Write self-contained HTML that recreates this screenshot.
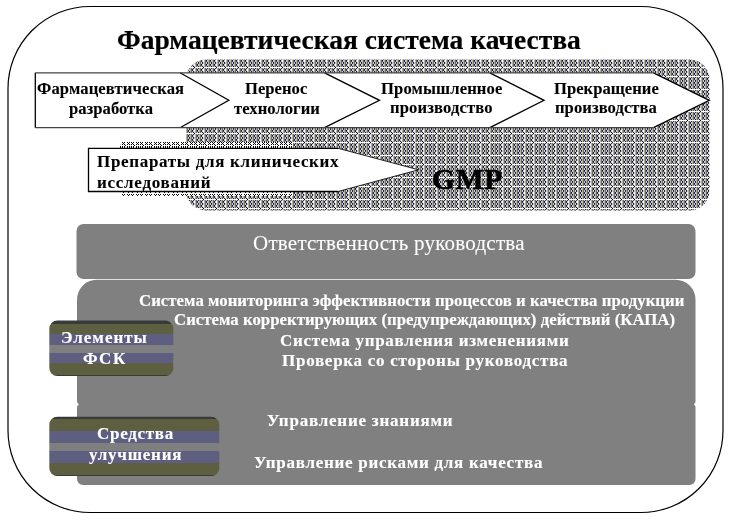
<!DOCTYPE html>
<html><head><meta charset="utf-8">
<style>
html,body{margin:0;padding:0;background:#fff;}
body{width:730px;height:523px;overflow:hidden;position:relative;}
svg{position:absolute;left:0;top:0;will-change:transform;}
text{font-family:"Liberation Serif",serif;}
</style></head>
<body>
<svg width="730" height="523" viewBox="0 0 730 523">
<defs>
<pattern id="pt" patternUnits="userSpaceOnUse" width="22" height="22" x="194" y="45"><rect x="0" y="0" width="1" height="1" fill="#000000"/><rect x="1" y="0" width="8" height="1" fill="#ffffff"/><rect x="9" y="0" width="1" height="1" fill="#000000"/><rect x="10" y="0" width="12" height="1" fill="#ffffff"/><rect x="0" y="1" width="1" height="1" fill="#c8c8c8"/><rect x="1" y="1" width="1" height="1" fill="#b0b0b0"/><rect x="2" y="1" width="1" height="1" fill="#707050"/><rect x="3" y="1" width="1" height="1" fill="#d0d0d0"/><rect x="4" y="1" width="1" height="1" fill="#303058"/><rect x="5" y="1" width="1" height="1" fill="#b0b0b0"/><rect x="6" y="1" width="1" height="1" fill="#707050"/><rect x="7" y="1" width="1" height="1" fill="#d0d0d0"/><rect x="8" y="1" width="1" height="1" fill="#303058"/><rect x="9" y="1" width="1" height="1" fill="#c8c8c8"/><rect x="10" y="1" width="1" height="1" fill="#b0b0b0"/><rect x="11" y="1" width="1" height="1" fill="#707050"/><rect x="12" y="1" width="1" height="1" fill="#d0d0d0"/><rect x="13" y="1" width="1" height="1" fill="#303058"/><rect x="14" y="1" width="1" height="1" fill="#b0b0b0"/><rect x="15" y="1" width="1" height="1" fill="#707050"/><rect x="16" y="1" width="1" height="1" fill="#d0d0d0"/><rect x="17" y="1" width="1" height="1" fill="#303058"/><rect x="18" y="1" width="1" height="1" fill="#b0b0b0"/><rect x="19" y="1" width="1" height="1" fill="#707050"/><rect x="20" y="1" width="1" height="1" fill="#d0d0d0"/><rect x="21" y="1" width="1" height="1" fill="#303058"/><rect x="0" y="2" width="1" height="1" fill="#ffffff"/><rect x="1" y="2" width="1" height="1" fill="#b0b0b0"/><rect x="2" y="2" width="1" height="1" fill="#707050"/><rect x="3" y="2" width="1" height="1" fill="#141440"/><rect x="4" y="2" width="1" height="1" fill="#d0d0d0"/><rect x="5" y="2" width="1" height="1" fill="#b0b0b0"/><rect x="6" y="2" width="1" height="1" fill="#707050"/><rect x="7" y="2" width="1" height="1" fill="#141440"/><rect x="8" y="2" width="1" height="1" fill="#d0d0d0"/><rect x="9" y="2" width="1" height="1" fill="#ffffff"/><rect x="10" y="2" width="1" height="1" fill="#b0b0b0"/><rect x="11" y="2" width="1" height="1" fill="#707050"/><rect x="12" y="2" width="1" height="1" fill="#141440"/><rect x="13" y="2" width="1" height="1" fill="#d0d0d0"/><rect x="14" y="2" width="1" height="1" fill="#b0b0b0"/><rect x="15" y="2" width="1" height="1" fill="#707050"/><rect x="16" y="2" width="1" height="1" fill="#141440"/><rect x="17" y="2" width="1" height="1" fill="#d0d0d0"/><rect x="18" y="2" width="1" height="1" fill="#b0b0b0"/><rect x="19" y="2" width="1" height="1" fill="#707050"/><rect x="20" y="2" width="1" height="1" fill="#141440"/><rect x="21" y="2" width="1" height="1" fill="#d0d0d0"/><rect x="0" y="3" width="1" height="1" fill="#ffffff"/><rect x="1" y="3" width="1" height="1" fill="#b0b0b0"/><rect x="2" y="3" width="1" height="1" fill="#707050"/><rect x="3" y="3" width="1" height="1" fill="#303058"/><rect x="4" y="3" width="1" height="1" fill="#d0d0d0"/><rect x="5" y="3" width="1" height="1" fill="#b0b0b0"/><rect x="6" y="3" width="1" height="1" fill="#707050"/><rect x="7" y="3" width="1" height="1" fill="#303058"/><rect x="8" y="3" width="1" height="1" fill="#d0d0d0"/><rect x="9" y="3" width="1" height="1" fill="#ffffff"/><rect x="10" y="3" width="1" height="1" fill="#b0b0b0"/><rect x="11" y="3" width="1" height="1" fill="#707050"/><rect x="12" y="3" width="1" height="1" fill="#303058"/><rect x="13" y="3" width="1" height="1" fill="#d0d0d0"/><rect x="14" y="3" width="1" height="1" fill="#b0b0b0"/><rect x="15" y="3" width="1" height="1" fill="#707050"/><rect x="16" y="3" width="1" height="1" fill="#303058"/><rect x="17" y="3" width="1" height="1" fill="#d0d0d0"/><rect x="18" y="3" width="1" height="1" fill="#b0b0b0"/><rect x="19" y="3" width="1" height="1" fill="#707050"/><rect x="20" y="3" width="1" height="1" fill="#303058"/><rect x="21" y="3" width="1" height="1" fill="#d0d0d0"/><rect x="0" y="4" width="1" height="1" fill="#c8c8c8"/><rect x="1" y="4" width="1" height="1" fill="#b0b0b0"/><rect x="2" y="4" width="1" height="1" fill="#707050"/><rect x="3" y="4" width="1" height="1" fill="#d0d0d0"/><rect x="4" y="4" width="1" height="1" fill="#141440"/><rect x="5" y="4" width="1" height="1" fill="#b0b0b0"/><rect x="6" y="4" width="1" height="1" fill="#707050"/><rect x="7" y="4" width="1" height="1" fill="#d0d0d0"/><rect x="8" y="4" width="1" height="1" fill="#141440"/><rect x="9" y="4" width="1" height="1" fill="#c8c8c8"/><rect x="10" y="4" width="1" height="1" fill="#b0b0b0"/><rect x="11" y="4" width="1" height="1" fill="#707050"/><rect x="12" y="4" width="1" height="1" fill="#d0d0d0"/><rect x="13" y="4" width="1" height="1" fill="#141440"/><rect x="14" y="4" width="1" height="1" fill="#b0b0b0"/><rect x="15" y="4" width="1" height="1" fill="#707050"/><rect x="16" y="4" width="1" height="1" fill="#d0d0d0"/><rect x="17" y="4" width="1" height="1" fill="#141440"/><rect x="18" y="4" width="1" height="1" fill="#b0b0b0"/><rect x="19" y="4" width="1" height="1" fill="#707050"/><rect x="20" y="4" width="1" height="1" fill="#d0d0d0"/><rect x="21" y="4" width="1" height="1" fill="#141440"/><rect x="0" y="5" width="1" height="1" fill="#c8c8c8"/><rect x="1" y="5" width="1" height="1" fill="#b0b0b0"/><rect x="2" y="5" width="1" height="1" fill="#707050"/><rect x="3" y="5" width="1" height="1" fill="#d0d0d0"/><rect x="4" y="5" width="1" height="1" fill="#303058"/><rect x="5" y="5" width="1" height="1" fill="#b0b0b0"/><rect x="6" y="5" width="1" height="1" fill="#707050"/><rect x="7" y="5" width="1" height="1" fill="#d0d0d0"/><rect x="8" y="5" width="1" height="1" fill="#303058"/><rect x="9" y="5" width="1" height="1" fill="#c8c8c8"/><rect x="10" y="5" width="1" height="1" fill="#b0b0b0"/><rect x="11" y="5" width="1" height="1" fill="#707050"/><rect x="12" y="5" width="1" height="1" fill="#d0d0d0"/><rect x="13" y="5" width="1" height="1" fill="#303058"/><rect x="14" y="5" width="1" height="1" fill="#b0b0b0"/><rect x="15" y="5" width="1" height="1" fill="#707050"/><rect x="16" y="5" width="1" height="1" fill="#d0d0d0"/><rect x="17" y="5" width="1" height="1" fill="#303058"/><rect x="18" y="5" width="1" height="1" fill="#b0b0b0"/><rect x="19" y="5" width="1" height="1" fill="#707050"/><rect x="20" y="5" width="1" height="1" fill="#d0d0d0"/><rect x="21" y="5" width="1" height="1" fill="#303058"/><rect x="0" y="6" width="1" height="1" fill="#ffffff"/><rect x="1" y="6" width="1" height="1" fill="#b0b0b0"/><rect x="2" y="6" width="1" height="1" fill="#707050"/><rect x="3" y="6" width="1" height="1" fill="#141440"/><rect x="4" y="6" width="1" height="1" fill="#d0d0d0"/><rect x="5" y="6" width="1" height="1" fill="#b0b0b0"/><rect x="6" y="6" width="1" height="1" fill="#707050"/><rect x="7" y="6" width="1" height="1" fill="#141440"/><rect x="8" y="6" width="1" height="1" fill="#d0d0d0"/><rect x="9" y="6" width="1" height="1" fill="#ffffff"/><rect x="10" y="6" width="1" height="1" fill="#b0b0b0"/><rect x="11" y="6" width="1" height="1" fill="#707050"/><rect x="12" y="6" width="1" height="1" fill="#141440"/><rect x="13" y="6" width="1" height="1" fill="#d0d0d0"/><rect x="14" y="6" width="1" height="1" fill="#b0b0b0"/><rect x="15" y="6" width="1" height="1" fill="#707050"/><rect x="16" y="6" width="1" height="1" fill="#141440"/><rect x="17" y="6" width="1" height="1" fill="#d0d0d0"/><rect x="18" y="6" width="1" height="1" fill="#b0b0b0"/><rect x="19" y="6" width="1" height="1" fill="#707050"/><rect x="20" y="6" width="1" height="1" fill="#141440"/><rect x="21" y="6" width="1" height="1" fill="#d0d0d0"/><rect x="0" y="7" width="1" height="1" fill="#ffffff"/><rect x="1" y="7" width="1" height="1" fill="#b0b0b0"/><rect x="2" y="7" width="1" height="1" fill="#707050"/><rect x="3" y="7" width="1" height="1" fill="#303058"/><rect x="4" y="7" width="1" height="1" fill="#d0d0d0"/><rect x="5" y="7" width="1" height="1" fill="#b0b0b0"/><rect x="6" y="7" width="1" height="1" fill="#707050"/><rect x="7" y="7" width="1" height="1" fill="#303058"/><rect x="8" y="7" width="1" height="1" fill="#d0d0d0"/><rect x="9" y="7" width="1" height="1" fill="#ffffff"/><rect x="10" y="7" width="1" height="1" fill="#b0b0b0"/><rect x="11" y="7" width="1" height="1" fill="#707050"/><rect x="12" y="7" width="1" height="1" fill="#303058"/><rect x="13" y="7" width="1" height="1" fill="#d0d0d0"/><rect x="14" y="7" width="1" height="1" fill="#b0b0b0"/><rect x="15" y="7" width="1" height="1" fill="#707050"/><rect x="16" y="7" width="1" height="1" fill="#303058"/><rect x="17" y="7" width="1" height="1" fill="#d0d0d0"/><rect x="18" y="7" width="1" height="1" fill="#b0b0b0"/><rect x="19" y="7" width="1" height="1" fill="#707050"/><rect x="20" y="7" width="1" height="1" fill="#303058"/><rect x="21" y="7" width="1" height="1" fill="#d0d0d0"/><rect x="0" y="8" width="1" height="1" fill="#c8c8c8"/><rect x="1" y="8" width="1" height="1" fill="#b0b0b0"/><rect x="2" y="8" width="1" height="1" fill="#707050"/><rect x="3" y="8" width="1" height="1" fill="#d0d0d0"/><rect x="4" y="8" width="1" height="1" fill="#141440"/><rect x="5" y="8" width="1" height="1" fill="#b0b0b0"/><rect x="6" y="8" width="1" height="1" fill="#707050"/><rect x="7" y="8" width="1" height="1" fill="#d0d0d0"/><rect x="8" y="8" width="1" height="1" fill="#141440"/><rect x="9" y="8" width="1" height="1" fill="#c8c8c8"/><rect x="10" y="8" width="1" height="1" fill="#b0b0b0"/><rect x="11" y="8" width="1" height="1" fill="#707050"/><rect x="12" y="8" width="1" height="1" fill="#d0d0d0"/><rect x="13" y="8" width="1" height="1" fill="#141440"/><rect x="14" y="8" width="1" height="1" fill="#b0b0b0"/><rect x="15" y="8" width="1" height="1" fill="#707050"/><rect x="16" y="8" width="1" height="1" fill="#d0d0d0"/><rect x="17" y="8" width="1" height="1" fill="#141440"/><rect x="18" y="8" width="1" height="1" fill="#b0b0b0"/><rect x="19" y="8" width="1" height="1" fill="#707050"/><rect x="20" y="8" width="1" height="1" fill="#d0d0d0"/><rect x="21" y="8" width="1" height="1" fill="#141440"/><rect x="0" y="9" width="1" height="1" fill="#000000"/><rect x="1" y="9" width="8" height="1" fill="#ffffff"/><rect x="9" y="9" width="1" height="1" fill="#000000"/><rect x="10" y="9" width="12" height="1" fill="#ffffff"/><rect x="0" y="10" width="1" height="1" fill="#c8c8c8"/><rect x="1" y="10" width="1" height="1" fill="#b0b0b0"/><rect x="2" y="10" width="1" height="1" fill="#707050"/><rect x="3" y="10" width="1" height="1" fill="#d0d0d0"/><rect x="4" y="10" width="1" height="1" fill="#303058"/><rect x="5" y="10" width="1" height="1" fill="#b0b0b0"/><rect x="6" y="10" width="1" height="1" fill="#707050"/><rect x="7" y="10" width="1" height="1" fill="#d0d0d0"/><rect x="8" y="10" width="1" height="1" fill="#303058"/><rect x="9" y="10" width="1" height="1" fill="#c8c8c8"/><rect x="10" y="10" width="1" height="1" fill="#b0b0b0"/><rect x="11" y="10" width="1" height="1" fill="#707050"/><rect x="12" y="10" width="1" height="1" fill="#d0d0d0"/><rect x="13" y="10" width="1" height="1" fill="#303058"/><rect x="14" y="10" width="1" height="1" fill="#b0b0b0"/><rect x="15" y="10" width="1" height="1" fill="#707050"/><rect x="16" y="10" width="1" height="1" fill="#d0d0d0"/><rect x="17" y="10" width="1" height="1" fill="#303058"/><rect x="18" y="10" width="1" height="1" fill="#b0b0b0"/><rect x="19" y="10" width="1" height="1" fill="#707050"/><rect x="20" y="10" width="1" height="1" fill="#d0d0d0"/><rect x="21" y="10" width="1" height="1" fill="#303058"/><rect x="0" y="11" width="1" height="1" fill="#ffffff"/><rect x="1" y="11" width="1" height="1" fill="#b0b0b0"/><rect x="2" y="11" width="1" height="1" fill="#707050"/><rect x="3" y="11" width="1" height="1" fill="#141440"/><rect x="4" y="11" width="1" height="1" fill="#d0d0d0"/><rect x="5" y="11" width="1" height="1" fill="#b0b0b0"/><rect x="6" y="11" width="1" height="1" fill="#707050"/><rect x="7" y="11" width="1" height="1" fill="#141440"/><rect x="8" y="11" width="1" height="1" fill="#d0d0d0"/><rect x="9" y="11" width="1" height="1" fill="#ffffff"/><rect x="10" y="11" width="1" height="1" fill="#b0b0b0"/><rect x="11" y="11" width="1" height="1" fill="#707050"/><rect x="12" y="11" width="1" height="1" fill="#141440"/><rect x="13" y="11" width="1" height="1" fill="#d0d0d0"/><rect x="14" y="11" width="1" height="1" fill="#b0b0b0"/><rect x="15" y="11" width="1" height="1" fill="#707050"/><rect x="16" y="11" width="1" height="1" fill="#141440"/><rect x="17" y="11" width="1" height="1" fill="#d0d0d0"/><rect x="18" y="11" width="1" height="1" fill="#b0b0b0"/><rect x="19" y="11" width="1" height="1" fill="#707050"/><rect x="20" y="11" width="1" height="1" fill="#141440"/><rect x="21" y="11" width="1" height="1" fill="#d0d0d0"/><rect x="0" y="12" width="1" height="1" fill="#ffffff"/><rect x="1" y="12" width="1" height="1" fill="#b0b0b0"/><rect x="2" y="12" width="1" height="1" fill="#707050"/><rect x="3" y="12" width="1" height="1" fill="#303058"/><rect x="4" y="12" width="1" height="1" fill="#d0d0d0"/><rect x="5" y="12" width="1" height="1" fill="#b0b0b0"/><rect x="6" y="12" width="1" height="1" fill="#707050"/><rect x="7" y="12" width="1" height="1" fill="#303058"/><rect x="8" y="12" width="1" height="1" fill="#d0d0d0"/><rect x="9" y="12" width="1" height="1" fill="#ffffff"/><rect x="10" y="12" width="1" height="1" fill="#b0b0b0"/><rect x="11" y="12" width="1" height="1" fill="#707050"/><rect x="12" y="12" width="1" height="1" fill="#303058"/><rect x="13" y="12" width="1" height="1" fill="#d0d0d0"/><rect x="14" y="12" width="1" height="1" fill="#b0b0b0"/><rect x="15" y="12" width="1" height="1" fill="#707050"/><rect x="16" y="12" width="1" height="1" fill="#303058"/><rect x="17" y="12" width="1" height="1" fill="#d0d0d0"/><rect x="18" y="12" width="1" height="1" fill="#b0b0b0"/><rect x="19" y="12" width="1" height="1" fill="#707050"/><rect x="20" y="12" width="1" height="1" fill="#303058"/><rect x="21" y="12" width="1" height="1" fill="#d0d0d0"/><rect x="0" y="13" width="1" height="1" fill="#c8c8c8"/><rect x="1" y="13" width="1" height="1" fill="#b0b0b0"/><rect x="2" y="13" width="1" height="1" fill="#707050"/><rect x="3" y="13" width="1" height="1" fill="#d0d0d0"/><rect x="4" y="13" width="1" height="1" fill="#141440"/><rect x="5" y="13" width="1" height="1" fill="#b0b0b0"/><rect x="6" y="13" width="1" height="1" fill="#707050"/><rect x="7" y="13" width="1" height="1" fill="#d0d0d0"/><rect x="8" y="13" width="1" height="1" fill="#141440"/><rect x="9" y="13" width="1" height="1" fill="#c8c8c8"/><rect x="10" y="13" width="1" height="1" fill="#b0b0b0"/><rect x="11" y="13" width="1" height="1" fill="#707050"/><rect x="12" y="13" width="1" height="1" fill="#d0d0d0"/><rect x="13" y="13" width="1" height="1" fill="#141440"/><rect x="14" y="13" width="1" height="1" fill="#b0b0b0"/><rect x="15" y="13" width="1" height="1" fill="#707050"/><rect x="16" y="13" width="1" height="1" fill="#d0d0d0"/><rect x="17" y="13" width="1" height="1" fill="#141440"/><rect x="18" y="13" width="1" height="1" fill="#b0b0b0"/><rect x="19" y="13" width="1" height="1" fill="#707050"/><rect x="20" y="13" width="1" height="1" fill="#d0d0d0"/><rect x="21" y="13" width="1" height="1" fill="#141440"/><rect x="0" y="14" width="1" height="1" fill="#c8c8c8"/><rect x="1" y="14" width="1" height="1" fill="#b0b0b0"/><rect x="2" y="14" width="1" height="1" fill="#707050"/><rect x="3" y="14" width="1" height="1" fill="#d0d0d0"/><rect x="4" y="14" width="1" height="1" fill="#303058"/><rect x="5" y="14" width="1" height="1" fill="#b0b0b0"/><rect x="6" y="14" width="1" height="1" fill="#707050"/><rect x="7" y="14" width="1" height="1" fill="#d0d0d0"/><rect x="8" y="14" width="1" height="1" fill="#303058"/><rect x="9" y="14" width="1" height="1" fill="#c8c8c8"/><rect x="10" y="14" width="1" height="1" fill="#b0b0b0"/><rect x="11" y="14" width="1" height="1" fill="#707050"/><rect x="12" y="14" width="1" height="1" fill="#d0d0d0"/><rect x="13" y="14" width="1" height="1" fill="#303058"/><rect x="14" y="14" width="1" height="1" fill="#b0b0b0"/><rect x="15" y="14" width="1" height="1" fill="#707050"/><rect x="16" y="14" width="1" height="1" fill="#d0d0d0"/><rect x="17" y="14" width="1" height="1" fill="#303058"/><rect x="18" y="14" width="1" height="1" fill="#b0b0b0"/><rect x="19" y="14" width="1" height="1" fill="#707050"/><rect x="20" y="14" width="1" height="1" fill="#d0d0d0"/><rect x="21" y="14" width="1" height="1" fill="#303058"/><rect x="0" y="15" width="1" height="1" fill="#ffffff"/><rect x="1" y="15" width="1" height="1" fill="#b0b0b0"/><rect x="2" y="15" width="1" height="1" fill="#707050"/><rect x="3" y="15" width="1" height="1" fill="#141440"/><rect x="4" y="15" width="1" height="1" fill="#d0d0d0"/><rect x="5" y="15" width="1" height="1" fill="#b0b0b0"/><rect x="6" y="15" width="1" height="1" fill="#707050"/><rect x="7" y="15" width="1" height="1" fill="#141440"/><rect x="8" y="15" width="1" height="1" fill="#d0d0d0"/><rect x="9" y="15" width="1" height="1" fill="#ffffff"/><rect x="10" y="15" width="1" height="1" fill="#b0b0b0"/><rect x="11" y="15" width="1" height="1" fill="#707050"/><rect x="12" y="15" width="1" height="1" fill="#141440"/><rect x="13" y="15" width="1" height="1" fill="#d0d0d0"/><rect x="14" y="15" width="1" height="1" fill="#b0b0b0"/><rect x="15" y="15" width="1" height="1" fill="#707050"/><rect x="16" y="15" width="1" height="1" fill="#141440"/><rect x="17" y="15" width="1" height="1" fill="#d0d0d0"/><rect x="18" y="15" width="1" height="1" fill="#b0b0b0"/><rect x="19" y="15" width="1" height="1" fill="#707050"/><rect x="20" y="15" width="1" height="1" fill="#141440"/><rect x="21" y="15" width="1" height="1" fill="#d0d0d0"/><rect x="0" y="16" width="1" height="1" fill="#ffffff"/><rect x="1" y="16" width="1" height="1" fill="#b0b0b0"/><rect x="2" y="16" width="1" height="1" fill="#707050"/><rect x="3" y="16" width="1" height="1" fill="#303058"/><rect x="4" y="16" width="1" height="1" fill="#d0d0d0"/><rect x="5" y="16" width="1" height="1" fill="#b0b0b0"/><rect x="6" y="16" width="1" height="1" fill="#707050"/><rect x="7" y="16" width="1" height="1" fill="#303058"/><rect x="8" y="16" width="1" height="1" fill="#d0d0d0"/><rect x="9" y="16" width="1" height="1" fill="#ffffff"/><rect x="10" y="16" width="1" height="1" fill="#b0b0b0"/><rect x="11" y="16" width="1" height="1" fill="#707050"/><rect x="12" y="16" width="1" height="1" fill="#303058"/><rect x="13" y="16" width="1" height="1" fill="#d0d0d0"/><rect x="14" y="16" width="1" height="1" fill="#b0b0b0"/><rect x="15" y="16" width="1" height="1" fill="#707050"/><rect x="16" y="16" width="1" height="1" fill="#303058"/><rect x="17" y="16" width="1" height="1" fill="#d0d0d0"/><rect x="18" y="16" width="1" height="1" fill="#b0b0b0"/><rect x="19" y="16" width="1" height="1" fill="#707050"/><rect x="20" y="16" width="1" height="1" fill="#303058"/><rect x="21" y="16" width="1" height="1" fill="#d0d0d0"/><rect x="0" y="17" width="1" height="1" fill="#c8c8c8"/><rect x="1" y="17" width="1" height="1" fill="#b0b0b0"/><rect x="2" y="17" width="1" height="1" fill="#707050"/><rect x="3" y="17" width="1" height="1" fill="#d0d0d0"/><rect x="4" y="17" width="1" height="1" fill="#141440"/><rect x="5" y="17" width="1" height="1" fill="#b0b0b0"/><rect x="6" y="17" width="1" height="1" fill="#707050"/><rect x="7" y="17" width="1" height="1" fill="#d0d0d0"/><rect x="8" y="17" width="1" height="1" fill="#141440"/><rect x="9" y="17" width="1" height="1" fill="#c8c8c8"/><rect x="10" y="17" width="1" height="1" fill="#b0b0b0"/><rect x="11" y="17" width="1" height="1" fill="#707050"/><rect x="12" y="17" width="1" height="1" fill="#d0d0d0"/><rect x="13" y="17" width="1" height="1" fill="#141440"/><rect x="14" y="17" width="1" height="1" fill="#b0b0b0"/><rect x="15" y="17" width="1" height="1" fill="#707050"/><rect x="16" y="17" width="1" height="1" fill="#d0d0d0"/><rect x="17" y="17" width="1" height="1" fill="#141440"/><rect x="18" y="17" width="1" height="1" fill="#b0b0b0"/><rect x="19" y="17" width="1" height="1" fill="#707050"/><rect x="20" y="17" width="1" height="1" fill="#d0d0d0"/><rect x="21" y="17" width="1" height="1" fill="#141440"/><rect x="0" y="18" width="1" height="1" fill="#c8c8c8"/><rect x="1" y="18" width="1" height="1" fill="#b0b0b0"/><rect x="2" y="18" width="1" height="1" fill="#707050"/><rect x="3" y="18" width="1" height="1" fill="#d0d0d0"/><rect x="4" y="18" width="1" height="1" fill="#303058"/><rect x="5" y="18" width="1" height="1" fill="#b0b0b0"/><rect x="6" y="18" width="1" height="1" fill="#707050"/><rect x="7" y="18" width="1" height="1" fill="#d0d0d0"/><rect x="8" y="18" width="1" height="1" fill="#303058"/><rect x="9" y="18" width="1" height="1" fill="#c8c8c8"/><rect x="10" y="18" width="1" height="1" fill="#b0b0b0"/><rect x="11" y="18" width="1" height="1" fill="#707050"/><rect x="12" y="18" width="1" height="1" fill="#d0d0d0"/><rect x="13" y="18" width="1" height="1" fill="#303058"/><rect x="14" y="18" width="1" height="1" fill="#b0b0b0"/><rect x="15" y="18" width="1" height="1" fill="#707050"/><rect x="16" y="18" width="1" height="1" fill="#d0d0d0"/><rect x="17" y="18" width="1" height="1" fill="#303058"/><rect x="18" y="18" width="1" height="1" fill="#b0b0b0"/><rect x="19" y="18" width="1" height="1" fill="#707050"/><rect x="20" y="18" width="1" height="1" fill="#d0d0d0"/><rect x="21" y="18" width="1" height="1" fill="#303058"/><rect x="0" y="19" width="1" height="1" fill="#ffffff"/><rect x="1" y="19" width="1" height="1" fill="#b0b0b0"/><rect x="2" y="19" width="1" height="1" fill="#707050"/><rect x="3" y="19" width="1" height="1" fill="#141440"/><rect x="4" y="19" width="1" height="1" fill="#d0d0d0"/><rect x="5" y="19" width="1" height="1" fill="#b0b0b0"/><rect x="6" y="19" width="1" height="1" fill="#707050"/><rect x="7" y="19" width="1" height="1" fill="#141440"/><rect x="8" y="19" width="1" height="1" fill="#d0d0d0"/><rect x="9" y="19" width="1" height="1" fill="#ffffff"/><rect x="10" y="19" width="1" height="1" fill="#b0b0b0"/><rect x="11" y="19" width="1" height="1" fill="#707050"/><rect x="12" y="19" width="1" height="1" fill="#141440"/><rect x="13" y="19" width="1" height="1" fill="#d0d0d0"/><rect x="14" y="19" width="1" height="1" fill="#b0b0b0"/><rect x="15" y="19" width="1" height="1" fill="#707050"/><rect x="16" y="19" width="1" height="1" fill="#141440"/><rect x="17" y="19" width="1" height="1" fill="#d0d0d0"/><rect x="18" y="19" width="1" height="1" fill="#b0b0b0"/><rect x="19" y="19" width="1" height="1" fill="#707050"/><rect x="20" y="19" width="1" height="1" fill="#141440"/><rect x="21" y="19" width="1" height="1" fill="#d0d0d0"/><rect x="0" y="20" width="1" height="1" fill="#ffffff"/><rect x="1" y="20" width="1" height="1" fill="#b0b0b0"/><rect x="2" y="20" width="1" height="1" fill="#707050"/><rect x="3" y="20" width="1" height="1" fill="#303058"/><rect x="4" y="20" width="1" height="1" fill="#d0d0d0"/><rect x="5" y="20" width="1" height="1" fill="#b0b0b0"/><rect x="6" y="20" width="1" height="1" fill="#707050"/><rect x="7" y="20" width="1" height="1" fill="#303058"/><rect x="8" y="20" width="1" height="1" fill="#d0d0d0"/><rect x="9" y="20" width="1" height="1" fill="#ffffff"/><rect x="10" y="20" width="1" height="1" fill="#b0b0b0"/><rect x="11" y="20" width="1" height="1" fill="#707050"/><rect x="12" y="20" width="1" height="1" fill="#303058"/><rect x="13" y="20" width="1" height="1" fill="#d0d0d0"/><rect x="14" y="20" width="1" height="1" fill="#b0b0b0"/><rect x="15" y="20" width="1" height="1" fill="#707050"/><rect x="16" y="20" width="1" height="1" fill="#303058"/><rect x="17" y="20" width="1" height="1" fill="#d0d0d0"/><rect x="18" y="20" width="1" height="1" fill="#b0b0b0"/><rect x="19" y="20" width="1" height="1" fill="#707050"/><rect x="20" y="20" width="1" height="1" fill="#303058"/><rect x="21" y="20" width="1" height="1" fill="#d0d0d0"/><rect x="0" y="21" width="1" height="1" fill="#c8c8c8"/><rect x="1" y="21" width="1" height="1" fill="#b0b0b0"/><rect x="2" y="21" width="1" height="1" fill="#707050"/><rect x="3" y="21" width="1" height="1" fill="#d0d0d0"/><rect x="4" y="21" width="1" height="1" fill="#141440"/><rect x="5" y="21" width="1" height="1" fill="#b0b0b0"/><rect x="6" y="21" width="1" height="1" fill="#707050"/><rect x="7" y="21" width="1" height="1" fill="#d0d0d0"/><rect x="8" y="21" width="1" height="1" fill="#141440"/><rect x="9" y="21" width="1" height="1" fill="#c8c8c8"/><rect x="10" y="21" width="1" height="1" fill="#b0b0b0"/><rect x="11" y="21" width="1" height="1" fill="#707050"/><rect x="12" y="21" width="1" height="1" fill="#d0d0d0"/><rect x="13" y="21" width="1" height="1" fill="#141440"/><rect x="14" y="21" width="1" height="1" fill="#b0b0b0"/><rect x="15" y="21" width="1" height="1" fill="#707050"/><rect x="16" y="21" width="1" height="1" fill="#d0d0d0"/><rect x="17" y="21" width="1" height="1" fill="#141440"/><rect x="18" y="21" width="1" height="1" fill="#b0b0b0"/><rect x="19" y="21" width="1" height="1" fill="#707050"/><rect x="20" y="21" width="1" height="1" fill="#d0d0d0"/><rect x="21" y="21" width="1" height="1" fill="#141440"/></pattern>
<pattern id="bt" patternUnits="userSpaceOnUse" width="9" height="5" x="127" y="142"><rect width="9" height="5" fill="#ffffff"/><rect x="0" y="0" width="1" height="1" fill="#000"/><rect x="2" y="0" width="1" height="1" fill="#000"/><rect x="4" y="0" width="1" height="1" fill="#000"/><rect x="6" y="0" width="1" height="1" fill="#000"/><rect x="1" y="1" width="1" height="1" fill="#000"/><rect x="5" y="1" width="1" height="1" fill="#000"/><rect x="0" y="2" width="1" height="1" fill="#000"/><rect x="2" y="2" width="1" height="1" fill="#000"/><rect x="4" y="2" width="1" height="1" fill="#000"/><rect x="6" y="2" width="1" height="1" fill="#000"/><rect x="7" y="3" width="1" height="1" fill="#000"/><rect x="0" y="4" width="1" height="1" fill="#000"/><rect x="2" y="4" width="1" height="1" fill="#000"/><rect x="4" y="4" width="1" height="1" fill="#000"/><rect x="6" y="4" width="1" height="1" fill="#000"/></pattern>
<pattern id="bb" patternUnits="userSpaceOnUse" width="9" height="4" x="127" y="192"><rect width="9" height="4" fill="#ffffff"/><rect x="1" y="0" width="1" height="1" fill="#000"/><rect x="5" y="0" width="1" height="1" fill="#000"/><rect x="0" y="2" width="1" height="1" fill="#000"/><rect x="2" y="2" width="1" height="1" fill="#000"/><rect x="4" y="2" width="1" height="1" fill="#000"/><rect x="6" y="2" width="1" height="1" fill="#000"/><rect x="1" y="3" width="1" height="1" fill="#000"/><rect x="5" y="3" width="1" height="1" fill="#000"/></pattern>
<clipPath id="c1"><rect x="49.3" y="320.6" width="124" height="55.4" rx="8" ry="8"/></clipPath>
<clipPath id="c2"><rect x="49.3" y="416.7" width="170" height="59.3" rx="8" ry="8"/></clipPath>
</defs>
<rect x="8" y="6.5" width="715" height="506" rx="82" ry="82" fill="none" stroke="#000" stroke-width="1.2"/>
<text x="117.00" y="48.80" font-size="27.5" font-weight="bold" letter-spacing="0.031" fill="#000" stroke="#000" stroke-width="0.2">Фармацевтическая система качества</text>
<rect x="186" y="59.6" width="523.5" height="151" rx="20" ry="20" fill="url(#pt)"/>
<polygon points="122,142 293,142 293,148 119,148" fill="url(#bt)"/>
<rect x="121" y="192" width="172" height="4" fill="url(#bb)"/>
<polygon points="35.3,72.8 180,72.8 228.8,100.3 180,127.7 35.3,127.7" fill="#fff"/>
<rect x="170" y="72.8" width="483.5" height="54.9" fill="#fff"/>
<polygon points="653,72.8 709.3,100.3 653,127.7" fill="#fff"/>
<path d="M180,72.8 L228.8,100.3 L180,127.7 M324.5,72.8 L379.5,100.3 L324.5,127.7 M489.8,72.8 L544,100.3 L489.8,127.7 M653.5,72.8 L709.3,100.3 L653.5,127.7" fill="none" stroke="#000" stroke-width="1.3"/>
<path d="M35.3,72.8 V127.7" fill="none" stroke="#000" stroke-width="1.3"/>
<path d="M35.3,72.8 H653.5 M35.3,127.7 H653.5" fill="none" stroke="#444" stroke-width="1.3"/>
<polygon points="88.5,148.3 338,148.3 418.5,169.8 338,191.5 88.5,191.5" fill="#fff"/>
<path d="M338,148.3 H88.5 V191.5 H338" fill="none" stroke="#000" stroke-width="1.3"/>
<path d="M338,148.3 L418.5,169.8 L338,191.5" fill="none" stroke="#111" stroke-width="0.9"/>
<text x="37.00" y="93.80" font-size="16.6" font-weight="bold" letter-spacing="0.133" fill="#000" stroke="#000" stroke-width="0.1">Фармацевтическая</text>
<text x="69.00" y="114.00" font-size="16.6" font-weight="bold" letter-spacing="0.033" fill="#000" stroke="#000" stroke-width="0.1">разработка</text>
<text x="245.00" y="93.90" font-size="16.6" font-weight="bold" letter-spacing="0.033" fill="#000" stroke="#000" stroke-width="0.1">Перенос</text>
<text x="234.00" y="113.50" font-size="16.6" font-weight="bold" letter-spacing="0.056" fill="#000" stroke="#000" stroke-width="0.1">технологии</text>
<text x="381.00" y="94.00" font-size="16.6" font-weight="bold" letter-spacing="0.136" fill="#000" stroke="#000" stroke-width="0.1">Промышленное</text>
<text x="390.00" y="113.30" font-size="16.6" font-weight="bold" letter-spacing="0.145" fill="#000" stroke="#000" stroke-width="0.1">производство</text>
<text x="554.00" y="94.00" font-size="16.6" font-weight="bold" letter-spacing="0.030" fill="#000" stroke="#000" stroke-width="0.1">Прекращение</text>
<text x="555.00" y="113.30" font-size="16.6" font-weight="bold" letter-spacing="0.064" fill="#000" stroke="#000" stroke-width="0.1">производства</text>
<text x="97.00" y="167.00" font-size="17" font-weight="bold" letter-spacing="0.683" fill="#000" stroke="#000" stroke-width="0.1">Препараты для клинических</text>
<text x="97.00" y="187.70" font-size="17" font-weight="bold" letter-spacing="0.736" fill="#000" stroke="#000" stroke-width="0.1">исследований</text>
<text x="432.00" y="189.00" font-size="29.5" font-weight="bold" letter-spacing="0.700" fill="#000" stroke="#000" stroke-width="0.5">GMP</text>
<rect x="76.5" y="224" width="619" height="55" rx="7" ry="7" fill="#808080"/>
<text x="253.00" y="249.70" font-size="21" font-weight="normal" letter-spacing="0.231" fill="#ffffff" stroke="#ffffff" stroke-width="0.1">Ответственность руководства</text>
<path d="M96.5,279.7 H675.5 A20,20 0 0 1 695.5,299.7 V402 L694,404.4 L695.5,406.5 V479 A6,6 0 0 1 689.5,485 H83 A6,6 0 0 1 77,479 V406.5 L78.8,404.4 L77,402 V299.7 A20,20 0 0 1 96.5,279.7 Z" fill="#808080"/>
<text x="139.00" y="306.00" font-size="16.8" font-weight="bold" letter-spacing="0.024" fill="#ffffff" stroke="#ffffff" stroke-width="0.15">Система мониторинга эффективности процессов и качества продукции</text>
<text x="174.00" y="324.60" font-size="16.8" font-weight="bold" letter-spacing="0.013" fill="#ffffff" stroke="#ffffff" stroke-width="0.15">Система корректирующих (предупреждающих) действий (КАПА)</text>
<text x="280.00" y="346.00" font-size="17" font-weight="bold" letter-spacing="0.717" fill="#ffffff" stroke="#ffffff" stroke-width="0.15">Система управления изменениями</text>
<text x="282.00" y="366.30" font-size="17" font-weight="bold" letter-spacing="0.733" fill="#ffffff" stroke="#ffffff" stroke-width="0.15">Проверка со стороны руководства</text>
<text x="267.00" y="426.20" font-size="17" font-weight="bold" letter-spacing="0.783" fill="#ffffff" stroke="#ffffff" stroke-width="0.15">Управление знаниями</text>
<text x="254.00" y="468.00" font-size="17" font-weight="bold" letter-spacing="0.727" fill="#ffffff" stroke="#ffffff" stroke-width="0.15">Управление рисками для качества</text>
<g clip-path="url(#c1)">
<rect x="49" y="320" width="125" height="4" fill="#3a3a3a"/>
<rect x="49" y="324" width="125" height="10" fill="#5e5e40"/>
<rect x="49" y="334" width="125" height="11" fill="#5e5e80"/>
<rect x="49" y="345" width="125" height="8" fill="#7f7f7f"/>
<rect x="49" y="353" width="125" height="10" fill="#5e5e80"/>
<rect x="49" y="363" width="125" height="12" fill="#5e5e40"/>
<rect x="49" y="375" width="125" height="2" fill="#3a3a3a"/>
</g>
<g clip-path="url(#c2)">
<rect x="49" y="416" width="171" height="3" fill="#3a3a3a"/>
<rect x="49" y="419" width="171" height="12" fill="#5e5e40"/>
<rect x="49" y="431" width="171" height="12" fill="#5e5e80"/>
<rect x="49" y="443" width="171" height="8" fill="#7f7f7f"/>
<rect x="49" y="451" width="171" height="12" fill="#5e5e80"/>
<rect x="49" y="463" width="171" height="12" fill="#5e5e40"/>
<rect x="49" y="475" width="171" height="2" fill="#3a3a3a"/>
</g>
<text x="61.00" y="343.00" font-size="17" font-weight="bold" letter-spacing="0.986" fill="#ffffff" stroke="#ffffff" stroke-width="0.15">Элементы</text>
<text x="83.00" y="364.20" font-size="17" font-weight="bold" letter-spacing="1.500" fill="#ffffff" stroke="#ffffff" stroke-width="0.15">ФСК</text>
<text x="97.00" y="439.00" font-size="17" font-weight="bold" letter-spacing="0.714" fill="#ffffff" stroke="#ffffff" stroke-width="0.15">Средства</text>
<text x="89.00" y="460.00" font-size="17" font-weight="bold" letter-spacing="0.750" fill="#ffffff" stroke="#ffffff" stroke-width="0.15">улучшения</text>
</svg>
</body></html>
